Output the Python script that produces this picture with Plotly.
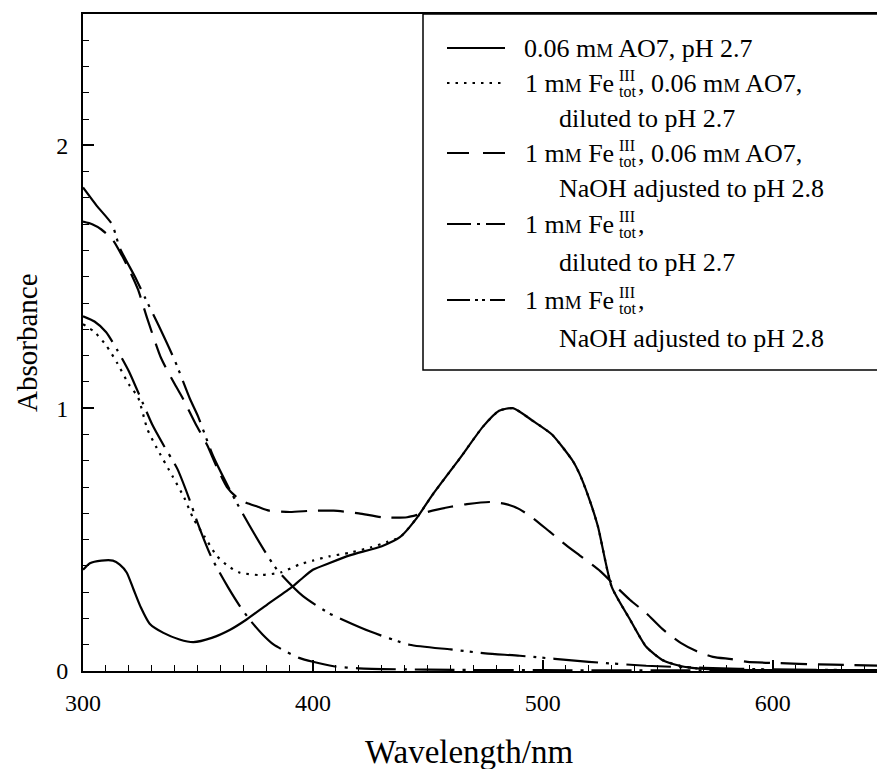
import plotly.graph_objects as go

# ── Spectra (wavelength in nm, absorbance) ──────────────────────────────
WL_AO7 = [300, 303, 308, 313, 316, 319, 322, 325, 329, 335, 342, 348, 356, 364,
          371, 380, 391, 395, 400, 407, 416, 430, 438, 445, 452, 464, 474, 481,
          487, 496, 504, 513, 516, 520, 524, 530, 538, 545, 552, 560, 567, 580,
          600, 648]
A_AO7 = [0.385, 0.41, 0.42, 0.42, 0.405, 0.375, 0.31, 0.245, 0.18, 0.145, 0.12,
         0.11, 0.126, 0.157, 0.195, 0.252, 0.32, 0.35, 0.385, 0.41, 0.44, 0.475,
         0.51, 0.58, 0.67, 0.81, 0.93, 0.99, 1.0, 0.95, 0.9, 0.8, 0.75, 0.66,
         0.55, 0.32, 0.195, 0.092, 0.042, 0.019, 0.01, 0.005, 0.003, 0.003]

WL_FE_AO7_DIL = [300, 305, 310, 315, 320, 324, 328, 332, 339, 344, 348, 353, 358,
                 363, 368, 377, 386, 394, 400, 407, 416, 425, 432, 438, 445, 452,
                 464, 474, 481, 487, 496, 504, 513, 516, 520, 524, 530, 538, 545,
                 552, 560, 567, 580, 600, 648]
A_FE_AO7_DIL = [1.32, 1.29, 1.24, 1.17, 1.09, 1.04, 0.92, 0.85, 0.74, 0.66, 0.58,
                0.51, 0.44, 0.40, 0.375, 0.365, 0.375, 0.405, 0.42, 0.436, 0.45,
                0.47, 0.49, 0.51, 0.58, 0.67, 0.81, 0.93, 0.99, 1.0, 0.95, 0.9,
                0.8, 0.75, 0.66, 0.55, 0.32, 0.195, 0.092, 0.042, 0.019, 0.01,
                0.005, 0.003, 0.003]

WL_FE_AO7_NAOH = [300, 304, 308, 313, 317, 321, 324, 328, 334, 340, 343.5, 349, 354,
                  358, 362.6, 367, 371, 376, 381, 390, 400, 409, 420, 430, 441, 452,
                  460, 467, 477, 484, 490, 496, 503, 510, 516, 525, 532, 538, 545,
                  552, 560, 567, 574, 582, 589, 603, 620, 632, 648]
A_FE_AO7_NAOH = [1.71, 1.70, 1.68, 1.64, 1.58, 1.51, 1.45, 1.34, 1.19, 1.09, 1.036,
                 0.94, 0.86, 0.78, 0.70, 0.66, 0.64, 0.625, 0.61, 0.605, 0.61, 0.61,
                 0.60, 0.585, 0.585, 0.61, 0.625, 0.635, 0.643, 0.635, 0.615, 0.58,
                 0.53, 0.48, 0.44, 0.38, 0.32, 0.27, 0.22, 0.16, 0.107, 0.075,
                 0.054, 0.045, 0.035, 0.03, 0.025, 0.023, 0.02]

WL_FE_DIL = [300, 305, 310, 315, 320, 326, 330, 335, 341, 346, 350, 356, 363, 368,
             373, 378, 383, 387, 394, 400, 409, 420, 450, 500, 648]
A_FE_DIL = [1.35, 1.33, 1.29, 1.22, 1.14, 1.02, 0.94, 0.86, 0.77, 0.66, 0.56, 0.43,
            0.32, 0.25, 0.19, 0.14, 0.10, 0.08, 0.05, 0.035, 0.018, 0.01, 0.005,
            0.003, 0.002]

WL_FE_NAOH = [300, 306, 312.6, 316, 322.6, 327, 332.6, 340, 346.5, 350, 356.5, 365,
              374, 384, 395.7, 407, 413, 425, 442, 460, 475, 490, 520, 545, 570,
              600, 648]
A_FE_NAOH = [1.84, 1.77, 1.70, 1.61, 1.50, 1.42, 1.32, 1.18, 1.036, 0.97, 0.82,
             0.67, 0.53, 0.39, 0.285, 0.22, 0.195, 0.15, 0.10, 0.082, 0.067,
             0.058, 0.035, 0.02, 0.012, 0.006, 0.003]

X_TICKS = [300, 400, 500, 600]
Y_TICKS = [0, 1, 2]

# serif first; the sandbox falls back to its sans face when it has none
FONT = 'Liberation Serif, Times New Roman, serif'
OFF = 8                       # page body margin around the plot div
W, H = 885 - OFF, 769 - OFF
ML, MR, MT, MB = 83 - OFF, 2, 14 - OFF, 98
LW = 2.2

MM = "m<span style='font-size:19px'>M</span>"


def px(x):                    # screen pixel → paper x
    return (x - OFF - ML) / (W - ML - MR)


def py(y):                    # screen pixel → paper y
    return (H + OFF - MB - y) / (H - MT - MB)


# (x, y, dash in plot, dash in legend sample)
series = [
    (WL_AO7, A_AO7, 'solid', 'solid'),
    (WL_FE_AO7_DIL, A_FE_AO7_DIL, '2.5px,6px', '2.5px,6px'),
    (WL_FE_AO7_NAOH, A_FE_AO7_NAOH, '26px,11px', '22px,14px'),
    (WL_FE_DIL, A_FE_DIL, '40px,8px,3px,8px', '24px,6px,3px,6px'),
    (WL_FE_NAOH, A_FE_NAOH, '45px,8px,3px,6px,3px,8px', '23px,5px,3px,4px,3px,5px'),
]

fig = go.Figure()
for xs, ys, dash, _ in series:
    fig.add_trace(go.Scatter(
        x=xs, y=ys, mode='lines', showlegend=False,
        line=dict(color='black', width=LW, dash=dash, shape='spline', smoothing=0.6),
        hoverinfo='skip'))

# ── Hand-built legend box (rows spaced like the original) ───────────────
shapes = [dict(type='rect', xref='paper', yref='paper',
               x0=px(423), x1=1, y0=py(370), y1=1,
               line=dict(color='black', width=1.5), fillcolor='white', layer='below')]
annots = []
TXT = dict(family=FONT, size=26, color='black')
SMALL = dict(family=FONT, size=16, color='black')

sample_rows = [48, 83, 153, 224, 300]
for (_, _, _, ldash), ry in zip(series, sample_rows):
    shapes.append(dict(type='line', xref='paper', yref='paper',
                       x0=px(447), x1=px(505), y0=py(ry), y1=py(ry),
                       line=dict(color='black', width=LW, dash=ldash)))


def text(x, y, s, anchor='left', font=TXT):
    annots.append(dict(xref='paper', yref='paper', x=px(x), y=py(y), text=s,
                       xanchor=anchor, yanchor='middle', showarrow=False, font=font))


def fe_row(y, tail):
    text(616, y, f'1 {MM} Fe', anchor='right')
    text(617, y - 8, 'III', font=SMALL)
    text(617, y + 8, 'tot', font=SMALL)
    text(636, y, tail)


text(522, 48, f'0.06 {MM} AO7, pH 2.7')
fe_row(83, f', 0.06 {MM} AO7,')
text(557, 118, 'diluted to pH 2.7')
fe_row(153, f', 0.06 {MM} AO7,')
text(557, 188, 'NaOH adjusted to pH 2.8')
fe_row(224, ',')
text(557, 262, 'diluted to pH 2.7')
fe_row(300, ',')
text(557, 338, 'NaOH adjusted to pH 2.8')

# axis titles, placed where the original has them
annots.append(dict(xref='paper', yref='paper', x=px(469), y=py(752),
                   text='Wavelength/nm', showarrow=False, xanchor='center',
                   yanchor='middle', font=dict(family=FONT, size=33, color='black')))
annots.append(dict(xref='paper', yref='paper', x=px(27), y=py(342),
                   text='Absorbance', showarrow=False, textangle=-90,
                   xanchor='center', yanchor='middle',
                   font=dict(family=FONT, size=29, color='black')))

fig.update_layout(
    width=W, height=H, margin=dict(l=ML, r=MR, t=MT, b=MB),
    paper_bgcolor='white', plot_bgcolor='white',
    font=dict(family=FONT, size=24, color='black'),
    shapes=shapes, annotations=annots, showlegend=False,
)
fig.update_xaxes(
    range=[300, 648], tickvals=X_TICKS, ticks='inside', ticklen=11, tickwidth=1.5,
    tickcolor='black', showline=True, linecolor='black', linewidth=2, mirror=True,
    showgrid=False, zeroline=False, ticklabelstandoff=9,
    minor=dict(dtick=10, ticks='inside', ticklen=6, tickwidth=1.2,
               tickcolor='black', showgrid=False),
)
fig.update_yaxes(
    range=[0, 2.5], tickvals=Y_TICKS, ticks='inside', ticklen=11, tickwidth=1.5,
    tickcolor='black', showline=True, linecolor='black', linewidth=2,
    showgrid=False, zeroline=False, ticklabelstandoff=8,
    minor=dict(dtick=0.1, ticks='inside', ticklen=6, tickwidth=1.2,
               tickcolor='black', showgrid=False),
)

fig.write_html('out.html')
